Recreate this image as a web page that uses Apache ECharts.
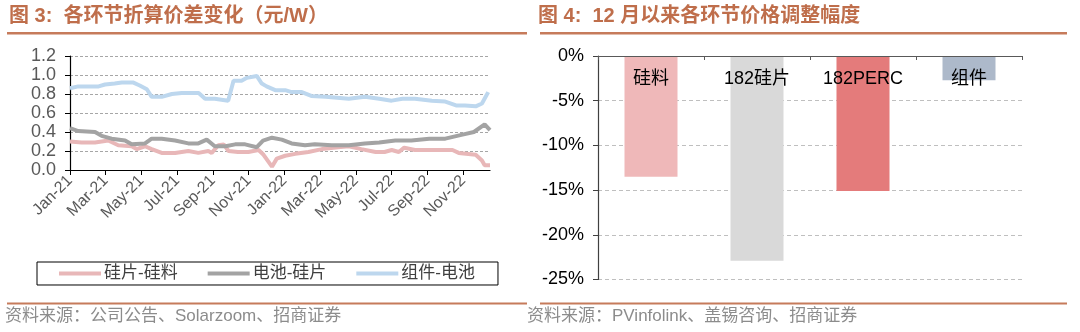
<!DOCTYPE html>
<html>
<head>
<meta charset="utf-8">
<script src="https://cdn.jsdelivr.net/npm/echarts@6/dist/echarts.min.js"></script>
<style>
html,body{margin:0;padding:0;background:#fff;}
#c{width:1080px;height:332px;}
</style>
</head>
<body>
<div id="c"></div>
<script>
// ---- Left chart data (x = months since Jan 2021) ----
const seriesNames = ['硅片-硅料', '电池-硅片', '组件-电池'];
const xTickLabels = ['Jan-21','Mar-21','May-21','Jul-21','Sep-21','Nov-21','Jan-22','Mar-22','May-22','Jul-22','Sep-22','Nov-22'];
const yTicksLeft = [0, 0.2, 0.4, 0.6, 0.8, 1.0, 1.2];

const waferX = [0, 0.65, 1.4, 2.14, 2.7, 3.45, 3.73, 4.2, 4.57, 5.13, 5.88, 6.62, 7.18, 7.74, 7.93, 8.3, 8.6, 8.87, 9.4, 9.98, 10.55, 10.83, 11.3, 11.57, 12.04, 12.6, 13.34, 14.1, 15.0, 15.6, 16.3, 17.1, 17.6, 18.0, 18.4, 18.7, 19.3, 20.25, 21.4, 21.75, 22.7, 23.05, 23.2, 23.5];
const waferY = [0.30, 0.29, 0.29, 0.31, 0.26, 0.25, 0.22, 0.25, 0.22, 0.18, 0.18, 0.20, 0.18, 0.20, 0.18, 0.26, 0.27, 0.20, 0.19, 0.19, 0.21, 0.16, 0.035, 0.12, 0.15, 0.17, 0.19, 0.22, 0.24, 0.25, 0.22, 0.19, 0.19, 0.21, 0.19, 0.235, 0.21, 0.21, 0.21, 0.18, 0.16, 0.10, 0.05, 0.05];

const cellX = [0, 0.46, 1.4, 1.77, 2.33, 3.08, 3.45, 4.2, 4.57, 5.13, 5.88, 6.62, 7.18, 7.65, 8.1, 8.7, 9.24, 9.8, 10.45, 10.8, 11.3, 11.85, 12.4, 13.15, 13.7, 14.65, 15.6, 16.5, 17.3, 18.2, 19.1, 20.1, 21.0, 21.9, 22.6, 23.2, 23.5];
const cellY = [0.44, 0.41, 0.40, 0.36, 0.33, 0.31, 0.27, 0.28, 0.33, 0.33, 0.31, 0.28, 0.28, 0.32, 0.25, 0.25, 0.27, 0.27, 0.24, 0.31, 0.34, 0.32, 0.28, 0.26, 0.27, 0.26, 0.26, 0.28, 0.29, 0.31, 0.31, 0.33, 0.33, 0.37, 0.40, 0.48, 0.42];

const moduleX = [0, 0.46, 1.6, 1.96, 2.5, 2.9, 3.55, 3.9, 4.3, 4.57, 5.13, 5.7, 6.25, 7.2, 7.56, 8.1, 8.85, 9.15, 9.6, 9.9, 10.45, 10.73, 11.0, 11.48, 12.04, 12.4, 12.97, 13.5, 14.3, 15.6, 16.5, 17.3, 18.0, 18.6, 19.3, 20.25, 21.0, 21.6, 22.1, 22.7, 23.05, 23.4];
const moduleY = [0.86, 0.88, 0.88, 0.90, 0.91, 0.92, 0.92, 0.89, 0.85, 0.77, 0.77, 0.80, 0.81, 0.81, 0.75, 0.75, 0.73, 0.94, 0.94, 0.97, 0.99, 0.91, 0.88, 0.84, 0.84, 0.82, 0.82, 0.78, 0.77, 0.75, 0.77, 0.75, 0.73, 0.75, 0.75, 0.73, 0.72, 0.68, 0.68, 0.67, 0.70, 0.82];

// ---- Right chart data ----
const barCategories = ['硅料', '182硅片', '182PERC', '组件'];
const barValues = [-13.5, -22.9, -15.1, -2.7];
const yTicksRight = [0, -5, -10, -15, -20, -25];

const lineColors = ['#E8B7B8', '#A3A3A3', '#BDD7EE'];
const barColors = ['#EFB8B9', '#D9D9D9', '#E47B7B', '#ADB9CA'];

const pair = (xs, ys) => xs.map((x, i) => [x, ys[i]]);
const tickVals = xTickLabels.map((_, i) => i * 2);

const chart = echarts.init(document.getElementById('c'), null, {renderer: 'canvas'});
const titleColor = '#BF6E4B';
const ruleColor = '#C67B5B';
const FONT = 'Liberation Sans, Arial, Noto Sans CJK SC, sans-serif';

chart.setOption({
  animation: false,
  backgroundColor: '#fff',
  textStyle: {fontFamily: FONT},
  graphic: [
    {type: 'text', left: 9, top: 6, style: {text: '图 3:  各环节折算价差变化（元/W）', fill: titleColor, font: 'bold 20px ' + FONT}},
    {type: 'text', left: 538, top: 6, style: {text: '图 4:  12 月以来各环节价格调整幅度', fill: titleColor, font: 'bold 20px ' + FONT}},
    {type: 'rect', shape: {x: 7, y: 32, width: 520, height: 2.5}, style: {fill: ruleColor}},
    {type: 'rect', shape: {x: 540, y: 32, width: 527, height: 2.5}, style: {fill: ruleColor}},
    {type: 'rect', shape: {x: 7, y: 302.5, width: 520, height: 2}, style: {fill: ruleColor}},
    {type: 'rect', shape: {x: 540, y: 302.5, width: 527, height: 2}, style: {fill: ruleColor}},
    {type: 'text', left: 5, top: 308, style: {text: '资料来源：公司公告、Solarzoom、招商证券', fill: '#8C8C8C', font: '17px ' + FONT}},
    {type: 'text', left: 527, top: 308, style: {text: '资料来源：PVinfolink、盖锡咨询、招商证券', fill: '#8C8C8C', font: '17px ' + FONT}}
  ],
  legend: {
    left: 37, top: 262,
    data: seriesNames,
    icon: 'rect', itemWidth: 42, itemHeight: 4, itemGap: 30,
    borderColor: '#000', borderWidth: 1, padding: [3, 23, 3, 22],
    textStyle: {fontSize: 17, color: '#404040', padding: [0, 0, 0, -2]}
  },
  grid: [
    {left: 70, top: 56, width: 420, height: 114, containLabel: false},
    {left: 598, top: 56, width: 424, height: 223.5, containLabel: false}
  ],
  xAxis: [
    {
      gridIndex: 0, type: 'value', min: 0, max: 23.5,
      axisLine: {show: true, lineStyle: {color: '#000', width: 1.2}},
      axisTick: {show: true, length: 5, lineStyle: {color: '#000'}, customValues: tickVals},
      axisLabel: {rotate: 45, fontSize: 16, color: '#595959', margin: 8, customValues: tickVals,
        formatter: v => xTickLabels[Math.round(v / 2)] || ''},
      splitLine: {show: false}
    },
    {
      gridIndex: 1, type: 'category', data: barCategories, position: 'top', z: 10,
      axisLine: {show: true, lineStyle: {color: '#595959', width: 1.2}},
      axisTick: {show: true, inside: true, length: 4, lineStyle: {color: '#595959'}},
      axisLabel: {inside: true, margin: 14, fontSize: 18, color: '#000', verticalAlign: 'top'},
      splitLine: {show: false}
    }
  ],
  yAxis: [
    {
      gridIndex: 0, type: 'value', min: 0, max: 1.2, interval: 0.2,
      axisLine: {show: true, lineStyle: {color: '#000', width: 1.2}},
      axisTick: {show: true, length: 5, lineStyle: {color: '#000'}},
      axisLabel: {fontSize: 18, color: '#595959', margin: 14, formatter: v => v.toFixed(1)},
      splitLine: {show: true, lineStyle: {color: '#A6A6A6', type: [3, 2], width: 1}}
    },
    {
      gridIndex: 1, type: 'value', min: -25, max: 0, interval: 5,
      axisLine: {show: true, lineStyle: {color: '#404040', width: 1.2}},
      axisTick: {show: true, length: 5, lineStyle: {color: '#404040'}},
      axisLabel: {fontSize: 18, color: '#000', margin: 14, formatter: v => v + '%'},
      splitLine: {show: true, lineStyle: {color: '#BFBFBF', type: [4, 3], width: 1}}
    }
  ],
  series: [
    {name: seriesNames[0], type: 'line', xAxisIndex: 0, yAxisIndex: 0, data: pair(waferX, waferY), showSymbol: false, lineStyle: {color: lineColors[0], width: 4}, itemStyle: {color: lineColors[0]}},
    {name: seriesNames[1], type: 'line', xAxisIndex: 0, yAxisIndex: 0, data: pair(cellX, cellY), showSymbol: false, lineStyle: {color: lineColors[1], width: 4}, itemStyle: {color: lineColors[1]}},
    {name: seriesNames[2], type: 'line', xAxisIndex: 0, yAxisIndex: 0, data: pair(moduleX, moduleY), showSymbol: false, lineStyle: {color: lineColors[2], width: 4}, itemStyle: {color: lineColors[2]}},
    {type: 'bar', xAxisIndex: 1, yAxisIndex: 1, barWidth: '50%', z: 2,
      data: barValues.map((v, i) => ({value: v, itemStyle: {color: barColors[i]}}))}
  ]
});
</script>
</body>
</html>
